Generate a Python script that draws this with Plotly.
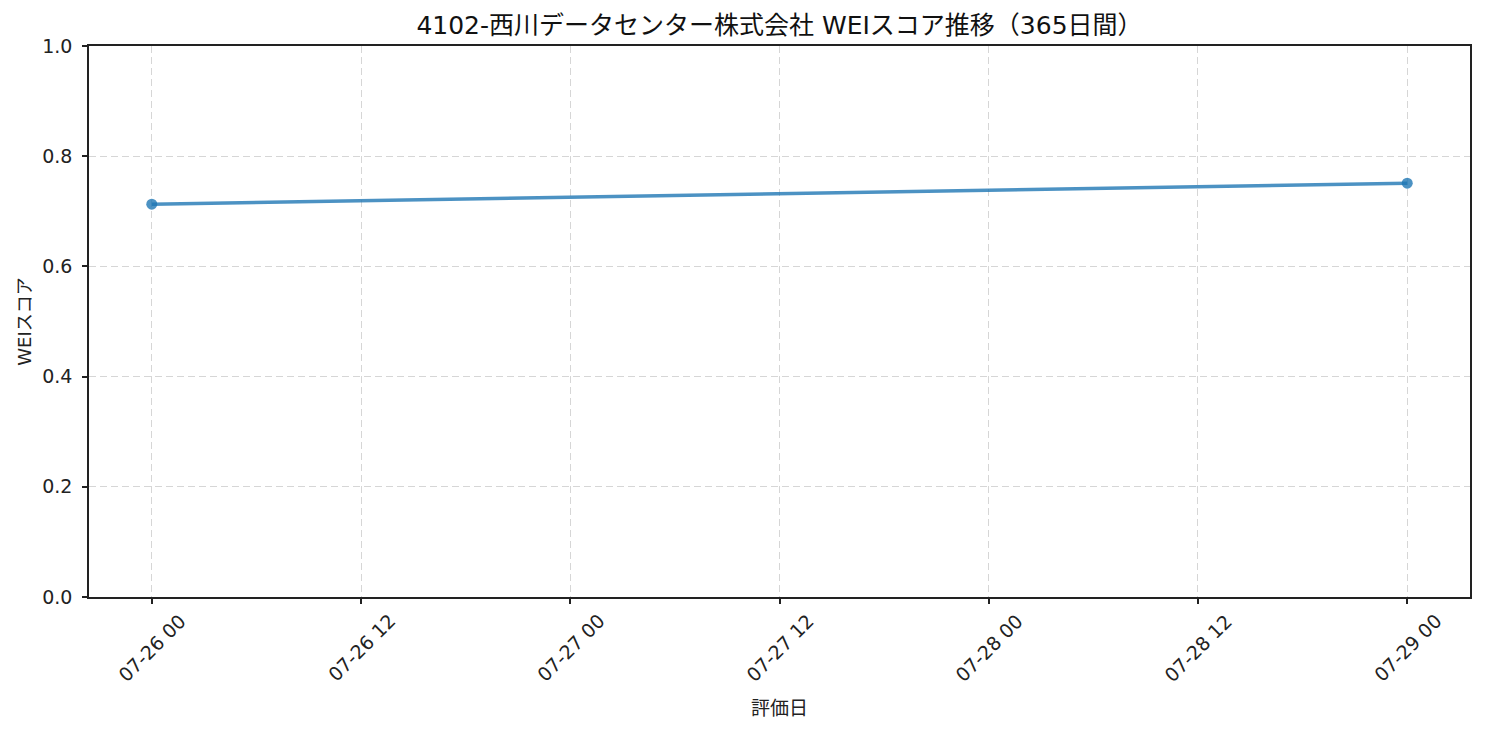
import pandas as pd
import plotly.graph_objects as go

# data
eval_dates = ["2025-07-26 00:00", "2025-07-29 00:00"]
wei_scores = [0.713, 0.751]
x_tick_vals = ["2025-07-26 00:00", "2025-07-26 12:00", "2025-07-27 00:00",
               "2025-07-27 12:00", "2025-07-28 00:00", "2025-07-28 12:00",
               "2025-07-29 00:00"]
x_tick_text = ["07-26 00", "07-26 12", "07-27 00", "07-27 12",
               "07-28 00", "07-28 12", "07-29 00"]
y_tick_vals = [0.0, 0.2, 0.4, 0.6, 0.8, 1.0]

title_text = "4102-西川データセンター株式会社 WEIスコア推移（365日間）"
FONT = "DejaVu Sans, Noto Sans CJK JP"
W, H = 1485, 734
M = dict(l=89, r=15, t=46, b=137)

# matplotlib style 5% margin on x
xs = pd.to_datetime(eval_dates)
span = xs.max() - xs.min()
x_range = [xs.min() - span * 0.05, xs.max() + span * 0.05]

fig = go.Figure()
fig.add_trace(go.Scatter(
    x=xs, y=wei_scores, mode="lines+markers",
    line=dict(color="rgba(31,119,180,0.8)", width=3.5),
    marker=dict(color="rgba(31,119,180,0.8)", size=11),
    showlegend=False,
))

# rotated tick labels, centred under the ticks like matplotlib
for v, t in zip(x_tick_vals, x_tick_text):
    fig.add_annotation(
        x=v, xref="x", y=0, yref="paper", text=t, showarrow=False,
        textangle=-45, xanchor="center", yanchor="top", yshift=-10,
        font=dict(family=FONT, size=19, color="#222"),
    )

plot_h = H - M["t"] - M["b"]
fig.add_annotation(
    x=0.5, xref="paper", y=-(708 - 597) / plot_h, yref="paper",
    text="評価日", showarrow=False, xanchor="center", yanchor="middle",
    font=dict(family=FONT, size=19, color="#222"),
)

axis_common = dict(
    showline=True, linecolor="#222", linewidth=1.5, mirror=True,
    ticks="outside", ticklen=5, tickwidth=1.5, tickcolor="#222",
    showgrid=True, gridcolor="#d6d6d6", gridwidth=1, griddash="7px,4px",
    zeroline=False,
)

fig.update_xaxes(
    range=x_range, tickvals=x_tick_vals, showticklabels=False, **axis_common,
)
fig.update_yaxes(
    range=[0, 1], tickvals=y_tick_vals, tickformat=".1f",
    tickfont=dict(family=FONT, size=19, color="#222"),
    ticklabelstandoff=6,
    title=dict(text="WEIスコア", font=dict(family=FONT, size=18, color="#222"),
               standoff=6),
    **axis_common,
)

fig.update_layout(
    width=W, height=H, margin=M,
    paper_bgcolor="white", plot_bgcolor="white",
    font=dict(family=FONT, color="#222"),
    title=dict(text=title_text, x=(M["l"] + (W - M["l"] - M["r"]) / 2) / W,
               xanchor="center", y=1 - 25 / H, yanchor="middle",
               font=dict(family=FONT, size=25, color="#111")),
)

fig.write_html("out.html", config={"displayModeBar": False},
               post_script="document.body.style.margin='0';")
